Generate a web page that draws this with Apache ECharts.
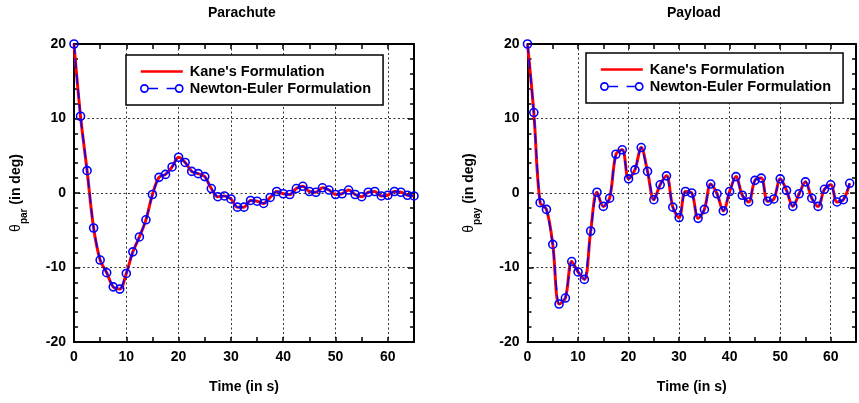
<!DOCTYPE html>
<html><head><meta charset="utf-8">
<script src="https://cdn.jsdelivr.net/npm/echarts@6/dist/echarts.min.js"></script>
<style>html,body{margin:0;padding:0;background:#fff}#c{width:859px;height:403px}</style>
</head><body><div id="c"></div>
<script>
// ---- data ----
const timeS = [0,1.25,2.5,3.75,5,6.25,7.5,8.75,10,11.25,12.5,13.75,15,16.25,17.5,18.75,20,21.25,22.5,23.75,25,26.25,27.5,28.75,30,31.25,32.5,33.75,35,36.25,37.5,38.75,40,41.25,42.5,43.75,45,46.25,47.5,48.75,50,51.25,52.5,53.75,55,56.25,57.5,58.75,60,61.25,62.5,63.75,65];
const parachuteDeg = [20,10.3,3.0,-4.7,-9.0,-10.7,-12.6,-12.9,-10.8,-7.9,-5.9,-3.6,-0.2,2.1,2.5,3.5,4.8,4.1,2.9,2.6,2.2,0.6,-0.5,-0.4,-0.8,-1.9,-1.9,-1.0,-1.1,-1.4,-0.6,0.2,-0.1,-0.2,0.6,0.9,0.2,0.1,0.7,0.4,-0.2,-0.1,0.4,-0.2,-0.5,0.1,0.2,-0.4,-0.3,0.2,0.1,-0.3,-0.4];
const payloadDeg = [20,10.8,-1.3,-2.2,-6.9,-14.9,-14.1,-9.2,-10.6,-11.6,-5.1,0.1,-1.8,-0.7,5.2,5.8,1.9,3.1,6.1,2.9,-0.9,1.1,2.3,-1.9,-3.3,0.2,0.0,-3.4,-2.2,1.2,-0.1,-2.4,0.2,2.2,-0.3,-1.2,1.7,2.0,-1.1,-0.8,1.9,0.35,-1.8,-0.1,1.5,-0.7,-1.8,0.5,1.1,-1.2,-0.9,1.3];
const seriesNames = ["Kane's Formulation", "Newton-Euler Formulation"];
const panelTitles = ["Parachute", "Payload"];
const panelSub = ["par", "pay"];
const xAxisName = "Time (in s)";
const xRange = [0, 65];
const yRange = [-20, 20];

const FF = 'Arial, "Liberation Sans", sans-serif';
const pairs = (ys) => ys.map((v, i) => [timeS[i], v]);

const grids = [
  { left: 74, top: 44, width: 340, height: 298 },
  { left: 527.5, top: 44, width: 342, height: 298 }
];

const xAxes = [], yAxes = [], series = [];
const tickCommon = { inside: true, length: 5, lineStyle: { color: '#000', width: 1.5 } };
grids.forEach((g, gi) => {
  xAxes.push({ gridIndex: gi, type: 'value', min: xRange[0], max: xRange[1], interval: 5, position: 'bottom',
    axisLine: { show: true, onZero: false, lineStyle: { color: '#000', width: 2 } },
    axisTick: tickCommon, splitLine: { show: false },
    axisLabel: { color: '#000', fontWeight: 'bold', fontSize: 14, fontFamily: FF, margin: 8,
      formatter: v => (v % 10 === 0 && v < 65) ? String(v) : '' },
    name: xAxisName, nameLocation: 'middle', nameGap: 38,
    nameTextStyle: { color: '#000', fontWeight: 'bold', fontSize: 14, fontFamily: FF } });
  xAxes.push({ gridIndex: gi, type: 'value', min: xRange[0], max: xRange[1], interval: 5, position: 'top',
    axisLine: { show: true, onZero: false, lineStyle: { color: '#000', width: 2 } },
    axisTick: tickCommon, axisLabel: { show: false }, splitLine: { show: false } });
  xAxes.push({ gridIndex: gi, type: 'value', min: xRange[0], max: xRange[1], interval: 10, position: 'bottom',
    axisLine: { show: false }, axisTick: { show: false }, axisLabel: { show: false },
    splitLine: { show: true, lineStyle: { color: '#333', type: [2, 2.5], width: 1 } } });
  yAxes.push({ gridIndex: gi, type: 'value', min: yRange[0], max: yRange[1], interval: 10, position: 'left',
    axisLine: { show: true, onZero: false, lineStyle: { color: '#000', width: 2 } },
    axisTick: { inside: true, length: 6, lineStyle: { color: '#000', width: 1.5 } },
    minorTick: { show: true, splitNumber: 5, length: 4, lineStyle: { color: '#000', width: 1.5 } },
    axisLabel: { color: '#000', fontWeight: 'bold', fontSize: 14, fontFamily: FF, margin: 8 },
    splitLine: { show: true, lineStyle: { color: '#333', type: [2, 2.5], width: 1 } },
    name: '{th|θ}{sub|' + panelSub[gi] + '}{n| (in deg)}', nameLocation: 'middle', nameRotate: 90,
    nameGap: 45,
    nameTextStyle: { color: '#000', fontFamily: FF,
      rich: {
        th: { fontSize: 14, fontFamily: FF, color: '#000', lineHeight: 26 },
        sub: { fontSize: 10, fontWeight: 'bold', fontFamily: FF, color: '#000', lineHeight: 12, verticalAlign: 'bottom' },
        n: { fontSize: 14, fontWeight: 'bold', fontFamily: FF, color: '#000', lineHeight: 26 }
      } } });
  yAxes.push({ gridIndex: gi, type: 'value', min: yRange[0], max: yRange[1], interval: 10, position: 'right',
    axisLine: { show: true, onZero: false, lineStyle: { color: '#000', width: 2 } },
    axisTick: { inside: true, length: 6, lineStyle: { color: '#000', width: 1.5 } },
    minorTick: { show: true, splitNumber: 5, length: 4, lineStyle: { color: '#000', width: 1.5 } },
    axisLabel: { show: false }, splitLine: { show: false } });

  const vals = gi === 0 ? parachuteDeg : payloadDeg;
  series.push({ name: seriesNames[0], type: 'line', xAxisIndex: gi * 3, yAxisIndex: gi * 2,
    data: pairs(vals), smooth: 0.35, showSymbol: false, symbol: 'none',
    lineStyle: { color: '#ff0000', width: 3 }, itemStyle: { color: '#ff0000' }, z: 2, animation: false });
  series.push({ name: seriesNames[1], type: 'line', xAxisIndex: gi * 3, yAxisIndex: gi * 2,
    data: pairs(vals), smooth: 0.2, symbol: 'circle', symbolSize: 8, showSymbol: true,
    lineStyle: { color: '#0000ff', width: 1.5, type: [10, 5] },
    itemStyle: { color: 'rgba(0,0,0,0)', borderColor: '#0000ff', borderWidth: 1.6 }, z: 3, animation: false });
});

const kaneIcon = 'path://M0,0 L40,0 L40,2.6 L0,2.6 Z';
const neIcon = 'path://M0.8,6 A3.4,3.4 0 1,0 7.6,6 A3.4,3.4 0 1,0 0.8,6 Z M7.6,6 L17,6 M25,6 L33.4,6 M33.4,6 A3.4,3.4 0 1,0 40.2,6 A3.4,3.4 0 1,0 33.4,6 Z';
const legendCommon = {
  orient: 'vertical', padding: [8, 12, 8, 14], itemWidth: 42, itemHeight: 12, itemGap: 0,
  borderColor: '#000', borderWidth: 1.5, backgroundColor: '#fff',
  data: [
    { name: seriesNames[0], icon: kaneIcon, itemStyle: { color: '#ff0000', borderWidth: 0 } },
    { name: seriesNames[1], icon: neIcon, itemStyle: { color: 'rgba(0,0,0,0)', borderColor: '#0000ff', borderWidth: 1.6 } }
  ],
  textStyle: { color: '#000', fontWeight: 'bold', fontSize: 14.5, fontFamily: FF, lineHeight: 16, padding: [1, 0, 0, 2] }, selectedMode: false
};

const chart = echarts.init(document.getElementById('c'), null, { renderer: 'canvas' });
chart.setOption({
  animation: false,
  backgroundColor: '#fff',
  grid: grids,
  xAxis: xAxes,
  yAxis: yAxes,
  legend: [Object.assign({ left: 126, top: 55 }, legendCommon), Object.assign({ left: 586, top: 53 }, legendCommon)],
  graphic: [
    { type: 'text', left: 243 - 35, top: 6, style: { text: panelTitles[0], fontWeight: 'bold', fontSize: 14, fontFamily: FF, fill: '#000' } },
    { type: 'text', left: 695 - 28, top: 6, style: { text: panelTitles[1], fontWeight: 'bold', fontSize: 14, fontFamily: FF, fill: '#000' } }
  ],
  series: series
});
</script></body></html>
